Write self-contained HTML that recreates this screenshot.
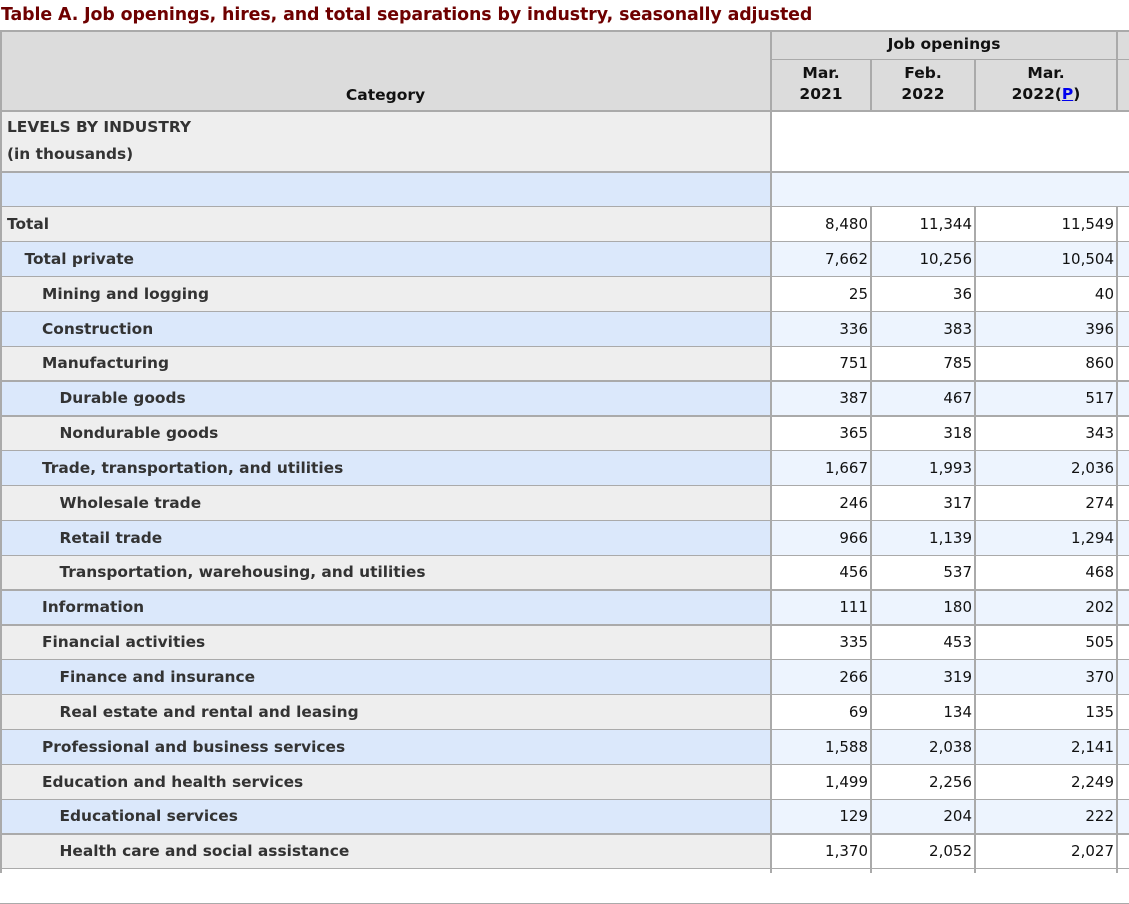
<!DOCTYPE html>
<html><head><meta charset="utf-8"><style>
body{margin:0;width:1129px;height:873px;overflow:hidden;background:#fff;font-family:"DejaVu Sans","Liberation Sans",sans-serif;position:relative}
.a{position:absolute;box-sizing:border-box}
.t{left:1px;top:5px;font-weight:bold;font-size:17.4px;color:#6e0000;white-space:nowrap;letter-spacing:-0.1px}
.h{background:#dcdcdc;font-weight:bold;font-size:15.5px;color:#111;text-align:center;line-height:21px}
.lbl{font-weight:bold;font-size:15.4px;color:#333;white-space:nowrap;display:flex;align-items:center}
.num{font-size:15px;color:#111;text-align:right;display:flex;align-items:center;justify-content:flex-end;padding-right:3px}
.vl{background:#aaa;width:2px}
.hl{background:#aaa;left:0;width:1129px}
a{color:#0000ee}
</style></head><body>
<div class="a t">Table A. Job openings, hires, and total separations by industry, seasonally adjusted</div>
<div id="g"></div>
<script>
var g=document.getElementById('g'),h='';
function d(c,x,y,w,ht,txt,st){h+='<div class="a '+c+'" style="left:'+x+'px;top:'+y+'px;width:'+w+'px;height:'+ht+'px;'+(st||'')+'">'+(txt||'')+'</div>';}
d('h',0,30,1129,81,'');
d('h',771,31,346,26,'Job openings','line-height:26px');
d('h',0,85,771,24,'Category');
d('h',771,63,100,48,'Mar.<br>2021');
d('h',871,63,104,48,'Feb.<br>2022');
d('h',975,63,142,48,'Mar.<br>2022(<a href="#" style="color:#0000ee">P</a>)');
d('',0,111,771,61,'','background:#eee');
d('lbl',7,113,760,55,'LEVELS BY INDUSTRY<br>(in thousands)','display:block;line-height:27px;padding-top:1px');
d('',0,172,771,35,'','background:#dbe8fb');
d('',771,172,358,35,'','background:#edf4fe');
var rows=[['Total',0,'8,480','11,344','11,549'],['Total private',1,'7,662','10,256','10,504'],['Mining and logging',2,'25','36','40'],['Construction',2,'336','383','396'],['Manufacturing',2,'751','785','860'],['Durable goods',3,'387','467','517'],['Nondurable goods',3,'365','318','343'],['Trade, transportation, and utilities',2,'1,667','1,993','2,036'],['Wholesale trade',3,'246','317','274'],['Retail trade',3,'966','1,139','1,294'],['Transportation, warehousing, and utilities',3,'456','537','468'],['Information',2,'111','180','202'],['Financial activities',2,'335','453','505'],['Finance and insurance',3,'266','319','370'],['Real estate and rental and leasing',3,'69','134','135'],['Professional and business services',2,'1,588','2,038','2,141'],['Education and health services',2,'1,499','2,256','2,249'],['Educational services',3,'129','204','222'],['Health care and social assistance',3,'1,370','2,052','2,027']];
var L=[206,241,276,311,346,380,415,450,485,520,555,589,624,659,694,729,764,799,833,868,903];
var thick={380:1,415:1,589:1,624:1,833:1,110:1,171:1,30:1};
for(var i=0;i<rows.length;i++){var r=rows[i],y=L[i],y2=L[i+1],odd=i%2==1;
d('',0,y,771,y2-y,'','background:'+(odd?'#dbe8fb':'#eee'));
d('',771,y,358,y2-y,'','background:'+(odd?'#edf4fe':'#fff'));
d('lbl',7+r[1]*17.5,y,760,y2-y,r[0]);
d('num',771,y,100,y2-y,r[2]);d('num',871,y,104,y2-y,r[3]);d('num',975,y,142,y2-y,r[4]);}
var hl=[30,110,171].concat(L);
hl.forEach(function(y){d('hl',0,y,0,thick[y]?2:1,'','width:1129px')});
d('hl',771,59,358,1,'','width:358px');
d('vl',0,30,2,843);d('vl',770,30,2,843);
d('vl',870,59,2,52);d('vl',974,59,2,52);d('vl',1116,30,2,81);
d('vl',870,206,2,667);d('vl',974,206,2,667);d('vl',1116,206,2,667);
g.innerHTML=h;
</script>
</body></html>
